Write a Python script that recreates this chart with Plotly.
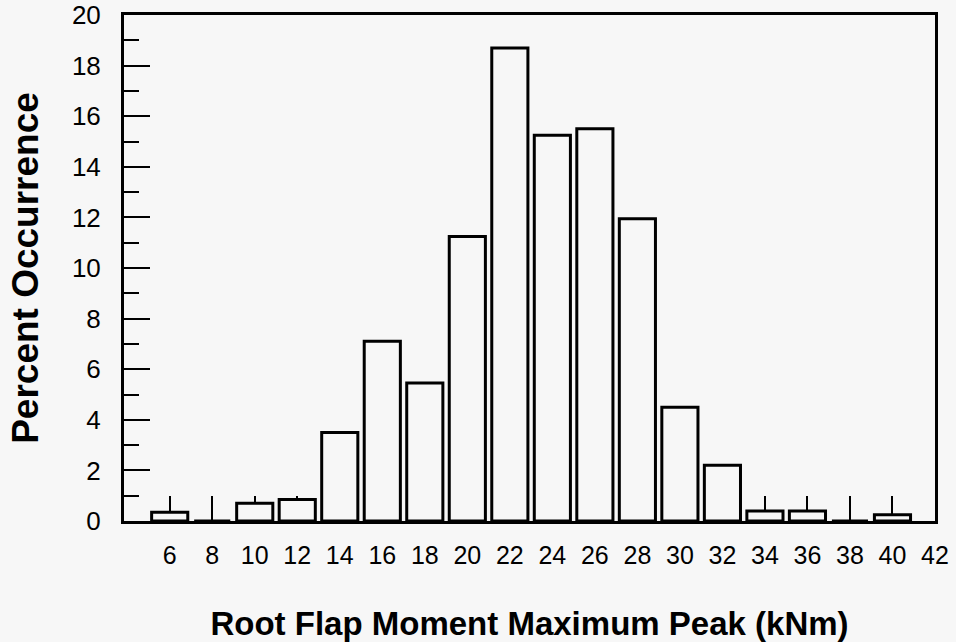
import plotly.graph_objects as go

# Histogram of root flap moment maximum peaks
bin_centers = [6, 8, 10, 12, 14, 16, 18, 20, 22, 24, 26, 28, 30, 32, 34, 36, 38, 40]
percent_occurrence = [0.35, 0.0, 0.7, 0.85, 3.5, 7.1, 5.45, 11.25, 18.7, 15.25,
                      15.5, 11.95, 4.5, 2.2, 0.4, 0.4, 0.0, 0.25]

x_tick_values = list(range(6, 44, 2))
y_tick_values = list(range(0, 22, 2))

BG = "#f7f7f7"

fig = go.Figure(
    go.Bar(
        x=bin_centers,
        y=percent_occurrence,
        width=1.7,
        marker=dict(color=BG, line=dict(color="black", width=3)),
        hoverinfo="x+y",
    )
)

fig.update_layout(
    width=956,
    height=642,
    margin=dict(l=124, r=21, t=15, b=121),
    paper_bgcolor=BG,
    plot_bgcolor=BG,
    showlegend=False,
    font=dict(family="Liberation Sans, Arial, sans-serif", color="black"),
)

fig.update_xaxes(
    range=[3.85, 42],
    tickvals=x_tick_values,
    ticktext=[str(v) for v in x_tick_values],
    ticks="inside",
    ticklen=25,
    tickwidth=2,
    tickcolor="black",
    showline=True,
    linecolor="black",
    linewidth=3,
    mirror=True,
    showgrid=False,
    zeroline=False,
    layer="below traces",
    ticklabelstandoff=10,
    tickfont=dict(family="Liberation Sans Narrow, Liberation Sans, Arial", size=25, color="black"),
    title=dict(
        text="<b>Root Flap Moment Maximum Peak (kNm)</b>",
        font=dict(family="Liberation Sans, Arial", size=33, color="black"),
        standoff=51,
    ),
    automargin=False,
)

fig.update_yaxes(
    range=[0, 20],
    tickvals=y_tick_values,
    ticks="inside",
    ticklen=26,
    tickwidth=2,
    tickcolor="black",
    minor=dict(dtick=1, tick0=0, ticks="inside", ticklen=15, tickwidth=2, tickcolor="black"),
    showline=True,
    linecolor="black",
    linewidth=3,
    mirror=True,
    showgrid=False,
    zeroline=False,
    layer="below traces",
    ticklabelstandoff=15,
    tickfont=dict(family="Liberation Sans, Arial", size=26, color="black"),
    title=dict(
        text="<b>Percent Occurrence</b>",
        font=dict(family="Liberation Sans, Arial", size=37, color="black"),
        standoff=22,
    ),
    automargin=False,
)

fig.write_html("out.html")
